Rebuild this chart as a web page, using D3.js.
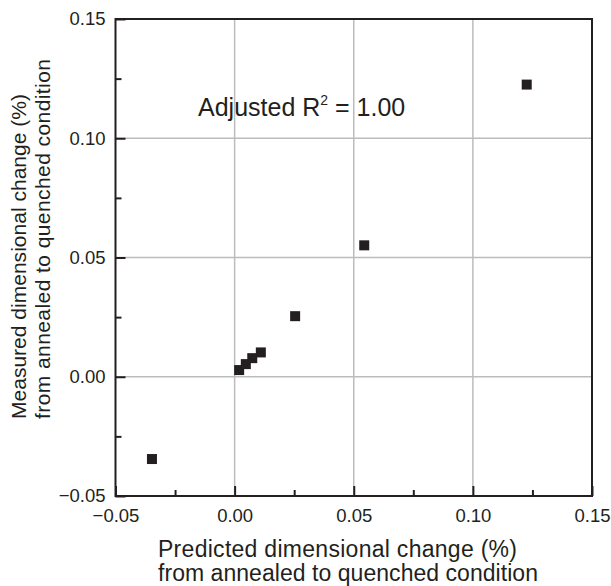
<!DOCTYPE html>
<html>
<head>
<meta charset="utf-8">
<script src="https://cdn.jsdelivr.net/npm/d3@7"></script>
<style>
  body { margin: 0; background: #fff; }
  svg text { font-family: "Liberation Sans", Arial, sans-serif; fill: #231f20; }
</style>
</head>
<body>
<div id="chart"></div>
<script>
// data
var predicted = [-0.0347, 0.0019, 0.0047, 0.0074, 0.0110, 0.0254, 0.0544, 0.1226];
var measured = [-0.0345, 0.0028, 0.0053, 0.0078, 0.0102, 0.0254, 0.0551, 0.1225];
var majorTicks = [-0.05, 0.00, 0.05, 0.10, 0.15];
var minorTicks = [-0.025, 0.025, 0.075, 0.125];
var gridTicks = [0.00, 0.05, 0.10];

var svgWidth = 611;
var svgHeight = 586;

var margin = { top: 19, right: 19, bottom: 90, left: 115.5 };
var width = 592 - margin.left;
var height = 496 - margin.top;

var svg = d3.select("#chart")
  .append("svg")
  .attr("width", svgWidth)
  .attr("height", svgHeight);

var chartGroup = svg.append("g")
  .attr("transform", `translate(${margin.left}, ${margin.top})`);

var xScale = d3.scaleLinear().domain([-0.05, 0.15]).range([0, width]);
var yScale = d3.scaleLinear().domain([-0.05, 0.15]).range([height, 0]);

var fmt = d => (d < 0 ? "\u2212" : "") + Math.abs(d).toFixed(2);

// grid lines
chartGroup.append("g")
  .selectAll("line.vgrid")
  .data(gridTicks)
  .enter()
  .append("line")
  .attr("x1", d => xScale(d))
  .attr("x2", d => xScale(d))
  .attr("y1", 0)
  .attr("y2", height)
  .attr("stroke", "#bcbcbc")
  .attr("stroke-width", 1.5);

chartGroup.append("g")
  .selectAll("line.hgrid")
  .data(gridTicks)
  .enter()
  .append("line")
  .attr("y1", d => yScale(d))
  .attr("y2", d => yScale(d))
  .attr("x1", 0)
  .attr("x2", width)
  .attr("stroke", "#bcbcbc")
  .attr("stroke-width", 1.5);

// frame
chartGroup.append("rect")
  .attr("x", 0)
  .attr("y", 0)
  .attr("width", width)
  .attr("height", height)
  .attr("fill", "none")
  .attr("stroke", "#231f20")
  .attr("stroke-width", 2);

// axes (ticks point inward)
var bottomAxis = d3.axisBottom(xScale)
  .tickValues(majorTicks)
  .tickFormat(fmt)
  .tickSize(-10)
  .tickPadding(13);

var xAxis = chartGroup.append("g")
  .attr("transform", `translate(0, ${height})`)
  .call(bottomAxis);

var bottomMinor = d3.axisBottom(xScale)
  .tickValues(minorTicks)
  .tickFormat("")
  .tickSize(-6);

chartGroup.append("g")
  .attr("transform", `translate(0, ${height})`)
  .call(bottomMinor);

var leftAxis = d3.axisLeft(yScale)
  .tickValues(majorTicks)
  .tickFormat(fmt)
  .tickSize(-10)
  .tickPadding(10);

var yAxis = chartGroup.append("g").call(leftAxis);

var leftMinor = d3.axisLeft(yScale)
  .tickValues(minorTicks)
  .tickFormat("")
  .tickSize(-6);

chartGroup.append("g").call(leftMinor);

chartGroup.selectAll(".domain").remove();
chartGroup.selectAll(".tick line")
  .attr("stroke", "#231f20")
  .attr("stroke-width", 2);
chartGroup.selectAll(".tick text")
  .attr("font-size", 18.5)
  .style("font-family", "'Liberation Sans', Arial, sans-serif")
  .attr("fill", "#231f20");

// points
var size = 10;
chartGroup.append("g")
  .selectAll("rect")
  .data(predicted)
  .enter()
  .append("rect")
  .attr("x", (d, i) => xScale(d) - size / 2)
  .attr("y", (d, i) => yScale(measured[i]) - size / 2)
  .attr("width", size)
  .attr("height", size)
  .attr("fill", "#231f20");

// annotation
var note = svg.append("text")
  .attr("x", 198)
  .attr("y", 116)
  .attr("font-size", 25);
note.append("tspan").text("Adjusted R");
note.append("tspan").attr("font-size", 14).attr("dy", -11).text("2");
note.append("tspan").attr("dy", 11).text(" = 1.00");

// x axis title
var xTitle = svg.append("text")
  .attr("x", 158)
  .attr("y", 557)
  .attr("font-size", 23);
xTitle.append("tspan").attr("x", 158)
  .attr("textLength", 359).attr("lengthAdjust", "spacing")
  .text("Predicted dimensional change (%)");
xTitle.append("tspan").attr("x", 158).attr("dy", 24)
  .attr("textLength", 380).attr("lengthAdjust", "spacing")
  .text("from annealed to quenched condition");

// y axis title
var yTitle = svg.append("text")
  .attr("transform", "translate(26, 419) rotate(-90)")
  .attr("font-size", 21);
yTitle.append("tspan").attr("x", 0).attr("y", 0)
  .attr("textLength", 325).attr("lengthAdjust", "spacing")
  .text("Measured dimensional change (%)");
yTitle.append("tspan").attr("x", 0).attr("y", 24)
  .attr("textLength", 360).attr("lengthAdjust", "spacing")
  .text("from annealed to quenched condition");
</script>
</body>
</html>
